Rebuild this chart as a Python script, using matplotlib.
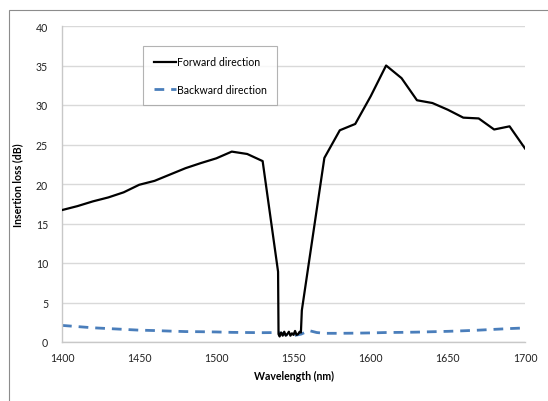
import matplotlib
matplotlib.use("Agg")
import matplotlib.pyplot as plt
from matplotlib.patches import Rectangle

# Forward direction (black)
fwd_wl = [1400, 1410, 1420, 1430, 1440, 1450, 1460, 1470, 1480, 1490, 1500,
          1510, 1520, 1530, 1540, 1540.3, 1541, 1542, 1543, 1544, 1545, 1546,
          1547, 1548, 1549, 1550, 1551, 1552, 1553, 1554, 1554.8, 1555.4,
          1570, 1580, 1590, 1600, 1610, 1620, 1630, 1640, 1650, 1660, 1670,
          1680, 1690, 1700]
fwd_loss = [16.7, 17.2, 17.8, 18.3, 18.95, 19.9, 20.4, 21.2, 22.0, 22.65, 23.25,
            24.1, 23.8, 22.9, 8.9, 1.0, 0.7, 1.2, 0.8, 1.3, 0.8, 1.0,
            1.3, 0.8, 1.1, 0.9, 1.4, 0.9, 1.0, 1.3, 1.2, 4.0,
            23.3, 26.8, 27.6, 31.1, 35.0, 33.4, 30.6, 30.25, 29.4, 28.4, 28.3,
            26.9, 27.3, 24.5]

# Backward direction (blue dashed)
bwd_wl = [1400, 1410, 1420, 1430, 1440, 1450, 1460, 1470, 1480, 1490, 1500,
          1510, 1520, 1530, 1540, 1545, 1550, 1555, 1560, 1565, 1570, 1580,
          1590, 1600, 1610, 1620, 1630, 1640, 1650, 1660, 1670, 1680, 1690, 1700]
bwd_loss = [2.1, 1.95, 1.8, 1.7, 1.6, 1.5, 1.45, 1.38, 1.32, 1.3, 1.27,
            1.22, 1.2, 1.18, 1.2, 0.95, 0.8, 1.0, 1.45, 1.2, 1.1, 1.1,
            1.12, 1.15, 1.2, 1.22, 1.25, 1.3, 1.35, 1.42, 1.5, 1.6, 1.7, 1.78]

x_ticks = [1400, 1450, 1500, 1550, 1600, 1650, 1700]
y_ticks = [0, 5, 10, 15, 20, 25, 30, 35, 40]

plt.rcParams['font.family'] = ['Lato', 'DejaVu Sans']

fig = plt.figure(figsize=(5.48, 4.02), dpi=100)
ax = fig.add_axes([62 / 548, 59 / 402, 463 / 548, 316 / 402])

# outer chart frame (cut off on right/bottom like the original)
fig.patches.append(Rectangle((9 / 548, -0.2), 1.2, 0.2 + (402 - 11) / 402,
                             transform=fig.transFigure, fill=False,
                             edgecolor='#8c8c8c', linewidth=0.8))

ax.plot(fwd_wl, fwd_loss, color='black', linewidth=1.6, label='Forward direction', zorder=3)
ax.plot(bwd_wl, bwd_loss, color='#4a7ebb', linewidth=2.0, linestyle=(0, (3.5, 2.5)),
        label='Backward direction', zorder=2)

ax.set_xlim(1400, 1700)
ax.set_ylim(0, 40)
ax.set_xticks(x_ticks)
ax.set_yticks(y_ticks)
ax.tick_params(length=0, labelsize=7.6, colors='#222222')
ax.tick_params(axis='y', pad=10)
ax.tick_params(axis='x', pad=7)
ax.yaxis.grid(True, color='#d9d9d9', linewidth=1.0)
ax.set_axisbelow(True)
for s in ['top', 'right']:
    ax.spines[s].set_visible(False)
for s in ['left', 'bottom']:
    ax.spines[s].set_color('#c8c8c8')
    ax.spines[s].set_linewidth(1.0)

ax.set_xlabel('Wavelength (nm)', fontsize=7.6, fontweight='bold', labelpad=5)
ax.set_ylabel('Insertion loss (dB)', fontsize=7.6, fontweight='bold', labelpad=9)

leg = ax.legend(loc='upper left', bbox_to_anchor=(0.176, 0.937), fontsize=7.6,
                frameon=True, fancybox=False, handlelength=2.1, handletextpad=0.05,
                labelspacing=1.55, borderpad=1.0, borderaxespad=0)
leg.get_frame().set_edgecolor('#a0a0a0')
leg.get_frame().set_linewidth(0.8)

fig.savefig('out.png', dpi=100)
